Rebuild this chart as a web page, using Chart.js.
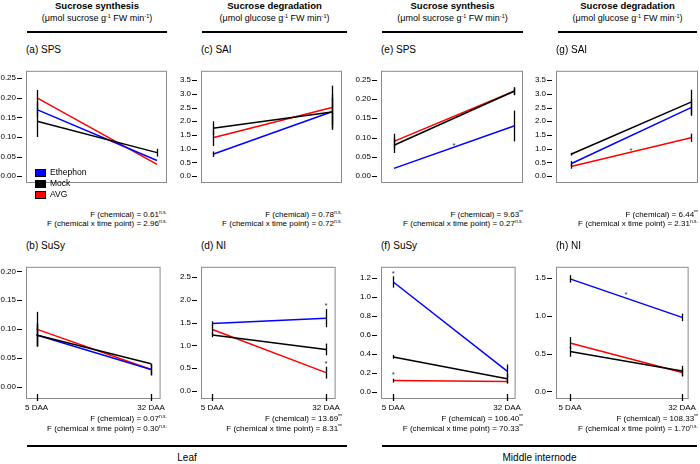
<!DOCTYPE html>
<html>
<head>
<meta charset="utf-8">
<script src="https://cdn.jsdelivr.net/npm/chart.js@4"></script>
<style>
  body { margin: 0; background: #fff; }
  #fig { position: relative; width: 700px; height: 464px; overflow: hidden;
         font-family: "Liberation Sans", Arial, sans-serif; color: #000; }
  .abs { position: absolute; white-space: nowrap; }
  .hd { font-weight: bold; font-size: 9.5px; line-height: 11px; text-align: center; }
  .sub { font-size: 9px; line-height: 11px; text-align: center; }
  .rule { position: absolute; height: 2px; background: #000; }
  .ptitle { font-size: 10px; line-height: 12px; }
  .fstat { font-size: 8px; line-height: 9px; text-align: right; }
  .fstat sup { font-size: 5px; vertical-align: 3px; }
  .leg { font-size: 8.5px; line-height: 9px; }
  .sw { position: absolute; width: 9px; height: 6px; border: 1px solid #000; }
  .cv { position: absolute; }
</style>
</head>
<body>
<div id="fig"></div>
<script>
// time points and treatments
const timePoints = ['5 DAA', '32 DAA'];
const treatments = ['Ethephon', 'Mock', 'AVG'];

// (a) SPS, leaf
const aEthephon = [0.17, 0.04];
const aMock = [0.14, 0.06];
const aAVG = [0.20, 0.03];
const aErrors = [[0.02, 0], [0.04, 0.01], [0.02, 0]];

// (c) SAI, leaf
const cEthephon = [0.80, 2.35];
const cMock = [1.75, 2.34];
const cAVG = [1.40, 2.50];
const cErrors = [[0.10, 0.50], [0.25, 0.65], [0.30, 0.80]];

// (e) SPS, middle internode
const eEthephon = [0.02, 0.13];
const eMock = [0.08, 0.22];
const eAVG = [0.09, 0.22];
const eErrors = [[0, 0.04], [0.02, 0.01], [0.02, 0.01]];

// (g) SAI, middle internode
const gEthephon = [0.45, 2.50];
const gMock = [0.80, 2.70];
const gAVG = [0.35, 1.40];
const gErrors = [[0.10, 0.30], [0.05, 0.45], [0.08, 0.15]];

// (b) SuSy, leaf
const bEthephon = [0.09, 0.03];
const bMock = [0.09, 0.04];
const bAVG = [0.10, 0.03];
const bErrors = [[0.02, 0.01], [0.02, 0], [0.03, 0.01]];

// (d) NI, leaf
const dEthephon = [1.48, 1.60];
const dMock = [1.23, 0.91];
const dAVG = [1.35, 0.40];
const dErrors = [[0.05, 0.20], [0.05, 0.13], [0.10, 0.13]];

// (f) SuSy, middle internode
const fEthephon = [1.16, 0.22];
const fMock = [0.37, 0.14];
const fAVG = [0.12, 0.11];
const fErrors = [[0.06, 0.07], [0.02, 0.05], [0.02, 0.02]];

// (h) NI, middle internode
const hEthephon = [1.49, 0.98];
const hMock = [0.53, 0.27];
const hAVG = [0.64, 0.25];
const hErrors = [[0.05, 0.05], [0.07, 0.07], [0.08, 0.05]];

// y tick labels
const ticksSPS = [0, 0.05, 0.10, 0.15, 0.20, 0.25];
const ticksSAI = [0, 0.5, 1.0, 1.5, 2.0, 2.5, 3.0, 3.5];
const ticksSuSyLeaf = [0, 0.05, 0.10, 0.15, 0.20];
const ticksNILeaf = [0, 0.5, 1.0, 1.5, 2.0, 2.5];
const ticksSuSyInt = [0, 0.2, 0.4, 0.6, 0.8, 1.0, 1.2];
const ticksNIInt = [0, 0.5, 1.0, 1.5];

// significance marks [time index position, value]
const eStars = [[0.5, 0.085]];
const gStars = [[0.5, 1.0]];
const dStars = [[1, 1.92], [1, 0.63]];
const fStars = [[0, 1.27], [0, 0.20]];
const hStars = [[0.5, 1.31]];

// ANOVA results, panels a c e g b d f h
const fChemical = ['0.61', '0.78', '9.63', '6.44', '0.07', '13.69', '106.40', '108.33'];
const fChemicalSig = ['n.s.', 'n.s.', '**', '**', 'n.s.', '**', '**', '**'];
const fInteraction = ['2.96', '0.72', '0.27', '2.31', '0.30', '8.31', '70.33', '1.70'];
const fInteractionSig = ['n.s.', 'n.s.', 'n.s.', 'n.s.', 'n.s.', '**', '**', 'n.s.'];

const seriesColors = ['#0000ff', '#000000', '#ff0000'];
const drawOrder = [1, 0, 2];

// layout
const colBox = [[26, 167], [201, 342], [381, 523], [556, 698]];
const colX = [[-0.092, 1.083], [-0.1, 1.084], [-0.108, 1.075], [-0.125, 1.058]];
const rowBox = [[58, 205], [254, 399]];

const panels = [
  { title: '(a) SPS', col: 0, row: 0, means: [aEthephon, aMock, aAVG], errors: aErrors, ticks: ticksSPS, dec: 2, y: [-0.0175, 0.269], stars: [] },
  { title: '(c) SAI', col: 1, row: 0, means: [cEthephon, cMock, cAVG], errors: cErrors, ticks: ticksSAI, dec: 1, y: [-0.25, 3.84], stars: [] },
  { title: '(e) SPS', col: 2, row: 0, means: [eEthephon, eMock, eAVG], errors: eErrors, ticks: ticksSPS, dec: 2, y: [-0.0178, 0.273], stars: eStars },
  { title: '(g) SAI', col: 3, row: 0, means: [gEthephon, gMock, gAVG], errors: gErrors, ticks: ticksSAI, dec: 1, y: [-0.25, 3.84], stars: gStars },
  { title: '(b) SuSy', col: 0, row: 1, means: [bEthephon, bMock, bAVG], errors: bErrors, ticks: ticksSuSyLeaf, dec: 2, y: [-0.021, 0.208], stars: [] },
  { title: '(d) NI', col: 1, row: 1, means: [dEthephon, dMock, dAVG], errors: dErrors, ticks: ticksNILeaf, dec: 1, y: [-0.18, 2.73], stars: dStars },
  { title: '(f) SuSy', col: 2, row: 1, means: [fEthephon, fMock, fAVG], errors: fErrors, ticks: ticksSuSyInt, dec: 1, y: [-0.074, 1.32], stars: fStars },
  { title: '(h) NI', col: 3, row: 1, means: [hEthephon, hMock, hAVG], errors: hErrors, ticks: ticksNIInt, dec: 1, y: [-0.10, 1.65], stars: hStars }
];

const fig = document.getElementById('fig');
function addDiv(cls, style, html) {
  const d = document.createElement('div');
  d.className = cls;
  Object.assign(d.style, style);
  d.innerHTML = html;
  fig.appendChild(d);
  return d;
}

// column headers
const headers = [
  ['Sucrose synthesis', '(μmol sucrose g<sup>-1</sup> FW min<sup>-1</sup>)', 27, 167],
  ['Sucrose degradation', '(μmol glucose g<sup>-1</sup> FW min<sup>-1</sup>)', 202, 347],
  ['Sucrose synthesis', '(μmol sucrose g<sup>-1</sup> FW min<sup>-1</sup>)', 382, 523],
  ['Sucrose degradation', '(μmol glucose g<sup>-1</sup> FW min<sup>-1</sup>)', 558, 697]
];
headers.forEach(h => {
  const w = h[3] - h[2];
  addDiv('abs hd', { left: h[2] + 'px', width: w + 'px', top: '0px' }, h[0]);
  addDiv('abs sub', { left: h[2] + 'px', width: w + 'px', top: '11px' },
    h[1].replace(/<sup>/g, '<sup style="font-size:5.5px;vertical-align:3px">'));
  addDiv('rule', { left: h[2] + 'px', width: w + 'px', top: '31px' }, '');
});

// bottom section labels
addDiv('rule', { left: '27px', width: '320px', top: '445px' }, '');
addDiv('rule', { left: '382px', width: '315px', top: '445px' }, '');
addDiv('abs ptitle', { left: '27px', width: '320px', top: '452px', textAlign: 'center' }, 'Leaf');
addDiv('abs ptitle', { left: '382px', width: '315px', top: '452px', textAlign: 'center' }, 'Middle internode');

// plugins
const boxPlugin = {
  id: 'box',
  beforeDatasetsDraw(chart) {
    const a = chart.chartArea, ctx = chart.ctx;
    ctx.save();
    ctx.strokeStyle = '#8a8a8a';
    ctx.lineWidth = 1;
    ctx.strokeRect(a.left + 0.5, a.top + 0.5, a.right - a.left - 1, a.bottom - a.top - 1);
    // tick marks: y outward with a gap, x inward from the bottom edge
    ctx.strokeStyle = '#000';
    const ys = chart.scales.y, xs = chart.scales.x;
    ys.ticks.forEach(t => {
      const y = Math.round(ys.getPixelForValue(t.value)) + 0.5;
      ctx.beginPath();
      ctx.moveTo(a.left - 9, y);
      ctx.lineTo(a.left - 4, y);
      ctx.stroke();
    });
    if (xs.options.display) {
      ctx.lineWidth = 1.3;
      xs.ticks.forEach(t => {
        const x = Math.round(xs.getPixelForValue(t.value)) + 0.5;
        ctx.beginPath();
        ctx.moveTo(x, a.bottom - 5);
        ctx.lineTo(x, a.bottom + 2);
        ctx.stroke();
      });
    }
    ctx.restore();
  }
};
const errorBarPlugin = {
  id: 'errorBars',
  afterDatasetsDraw(chart) {
    const ctx = chart.ctx, xs = chart.scales.x, ys = chart.scales.y;
    ctx.save();
    ctx.strokeStyle = '#000';
    ctx.lineWidth = 1.3;
    chart.data.datasets.forEach(ds => {
      ds.data.forEach((p, i) => {
        const e = ds.errors[i];
        if (!e) return;
        const x = Math.round(xs.getPixelForValue(p.x)) + 0.5;
        ctx.beginPath();
        ctx.moveTo(x, ys.getPixelForValue(p.y - e));
        ctx.lineTo(x, ys.getPixelForValue(p.y + e));
        ctx.stroke();
      });
    });
    ctx.restore();
  }
};
const starPlugin = {
  id: 'stars',
  afterDraw(chart, args, opts) {
    const ctx = chart.ctx, xs = chart.scales.x, ys = chart.scales.y;
    ctx.save();
    ctx.fillStyle = '#333';
    ctx.font = '8px "Liberation Sans", Arial, sans-serif';
    ctx.textAlign = 'center';
    ctx.textBaseline = 'middle';
    (opts.marks || []).forEach(m => {
      ctx.fillText('*', xs.getPixelForValue(m[0]), ys.getPixelForValue(m[1]) + 2);
    });
    ctx.restore();
  }
};

Chart.defaults.font.family = '"Liberation Sans", Arial, sans-serif';
Chart.defaults.color = '#000';

panels.forEach((p, idx) => {
  const bx = colBox[p.col], by = rowBox[p.row];
  const bottomRow = p.row === 1;
  const wrap = addDiv('cv', {
    left: (bx[0] - 32) + 'px', top: (by[0] - 2) + 'px',
    width: (bx[1] - bx[0] + 34) + 'px',
    height: (by[1] - by[0] + (bottomRow ? 24 : 4)) + 'px'
  }, '');
  const canvas = document.createElement('canvas');
  wrap.appendChild(canvas);

  // panel title and F statistics
  addDiv('abs ptitle', { left: bx[0] + 'px', top: (by[0] - 14) + 'px' }, p.title);
  const fTop = bottomRow ? 412 : 207.5;
  const right = (700 - bx[1]) + 'px';
  addDiv('abs fstat', { right: right, top: fTop + 'px' },
    'F (chemical) = ' + fChemical[idx] + '<sup>' + fChemicalSig[idx] + '</sup>');
  addDiv('abs fstat', { right: right, top: (fTop + (bottomRow ? 10 : 9)) + 'px' },
    'F (chemical x time point) = ' + fInteraction[idx] + '<sup>' + fInteractionSig[idx] + '</sup>');

  const datasets = drawOrder.map(k => ({
    label: treatments[k],
    data: p.means[k].map((v, i) => ({ x: i, y: v })),
    errors: p.errors[k],
    borderColor: seriesColors[k],
    backgroundColor: seriesColors[k],
    borderWidth: 1.5,
    pointRadius: 0,
    tension: 0
  }));

  new Chart(canvas, {
    type: 'line',
    data: { datasets: datasets },
    options: {
      responsive: true,
      maintainAspectRatio: false,
      animation: false,
      layout: { padding: { left: 0, top: 2, right: 2, bottom: bottomRow ? 0 : 2 } },
      plugins: {
        legend: { display: false },
        tooltip: { enabled: false },
        stars: { marks: p.stars }
      },
      scales: {
        x: {
          type: 'linear',
          display: bottomRow,
          min: colX[p.col][0],
          max: colX[p.col][1],
          afterBuildTicks: s => { s.ticks = [{ value: 0 }, { value: 1 }]; },
          afterFit: s => { s.height = 22; },
          ticks: { font: { size: 8 }, color: '#000', padding: 4, maxRotation: 0,
                   callback: v => timePoints[v] },
          grid: { display: false, drawTicks: false },
          border: { display: false }
        },
        y: {
          min: p.y[0],
          max: p.y[1],
          afterBuildTicks: s => { s.ticks = p.ticks.map(v => ({ value: v })); },
          afterFit: s => { s.width = 32; },
          ticks: { font: { size: 8 }, color: '#000', padding: 10,
                   callback: v => Number(v).toFixed(p.dec) },
          grid: { display: false, drawTicks: false },
          border: { display: false }
        }
      }
    },
    plugins: [boxPlugin, errorBarPlugin, starPlugin]
  });
});

// legend in panel (a)
treatments.forEach((t, k) => {
  const top = 169 + k * 11;
  addDiv('sw', { left: '35px', top: top + 'px', background: seriesColors[k] }, '');
  addDiv('abs leg', { left: '50px', top: (top - 1) + 'px' }, t);
});
</script>
</body>
</html>
